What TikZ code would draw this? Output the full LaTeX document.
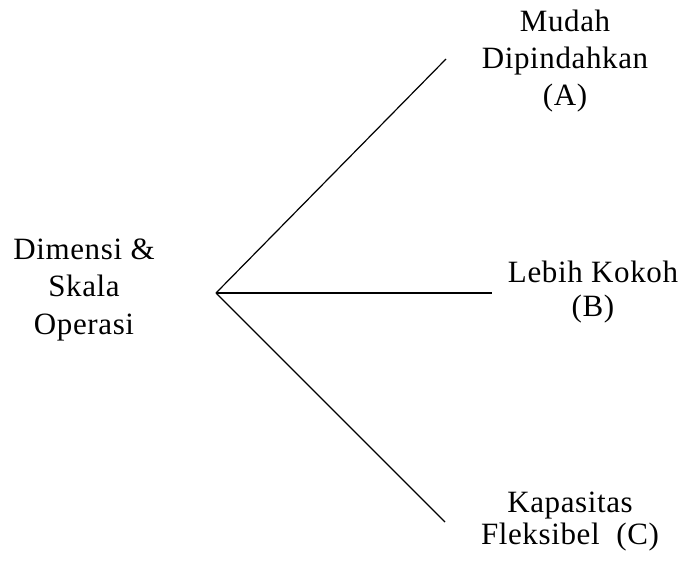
\documentclass[tikz,border=0pt]{standalone}
\usepackage{fontspec}
\setmainfont{Liberation Serif}[LetterSpace=2]
\begin{document}
\begin{tikzpicture}[x=1pt,y=-1pt,
  label/.style={inner sep=0pt, align=center, anchor=base,
    font=\fontsize{31pt}{36pt}\selectfont},
  branch/.style={line width=1.2pt, black}]
\useasboundingbox (0,0) rectangle (686,563);

% branching point and free ends of the three branches
\coordinate (root) at (216,293);
\coordinate (endA) at (446,59);
\coordinate (endB) at (492,293);
\coordinate (endC) at (445,522);

% labels (anchored at the baseline of the last line)
\node[label, font=\fontsize{31pt}{37.5pt}\selectfont] (dim) at (84,334) {Dimensi \&\\Skala\\Operasi};
\node[label, font=\fontsize{31pt}{37pt}\selectfont] (optA) at (565,105) {Mudah\\Dipindahkan\\(A)};
\node[label, font=\fontsize{31pt}{34pt}\selectfont] (optB) at (593,316) {Lebih Kokoh\\(B)};
\node[label, font=\fontsize{31pt}{32pt}\selectfont] (optC) at (570,544) {Kapasitas\\Fleksibel\ \ (C)};

% branches
\draw[branch] (root) -- (endA);
\draw[branch] (root) -- (endB);
\draw[branch] (root) -- (endC);
\end{tikzpicture}
\end{document}
